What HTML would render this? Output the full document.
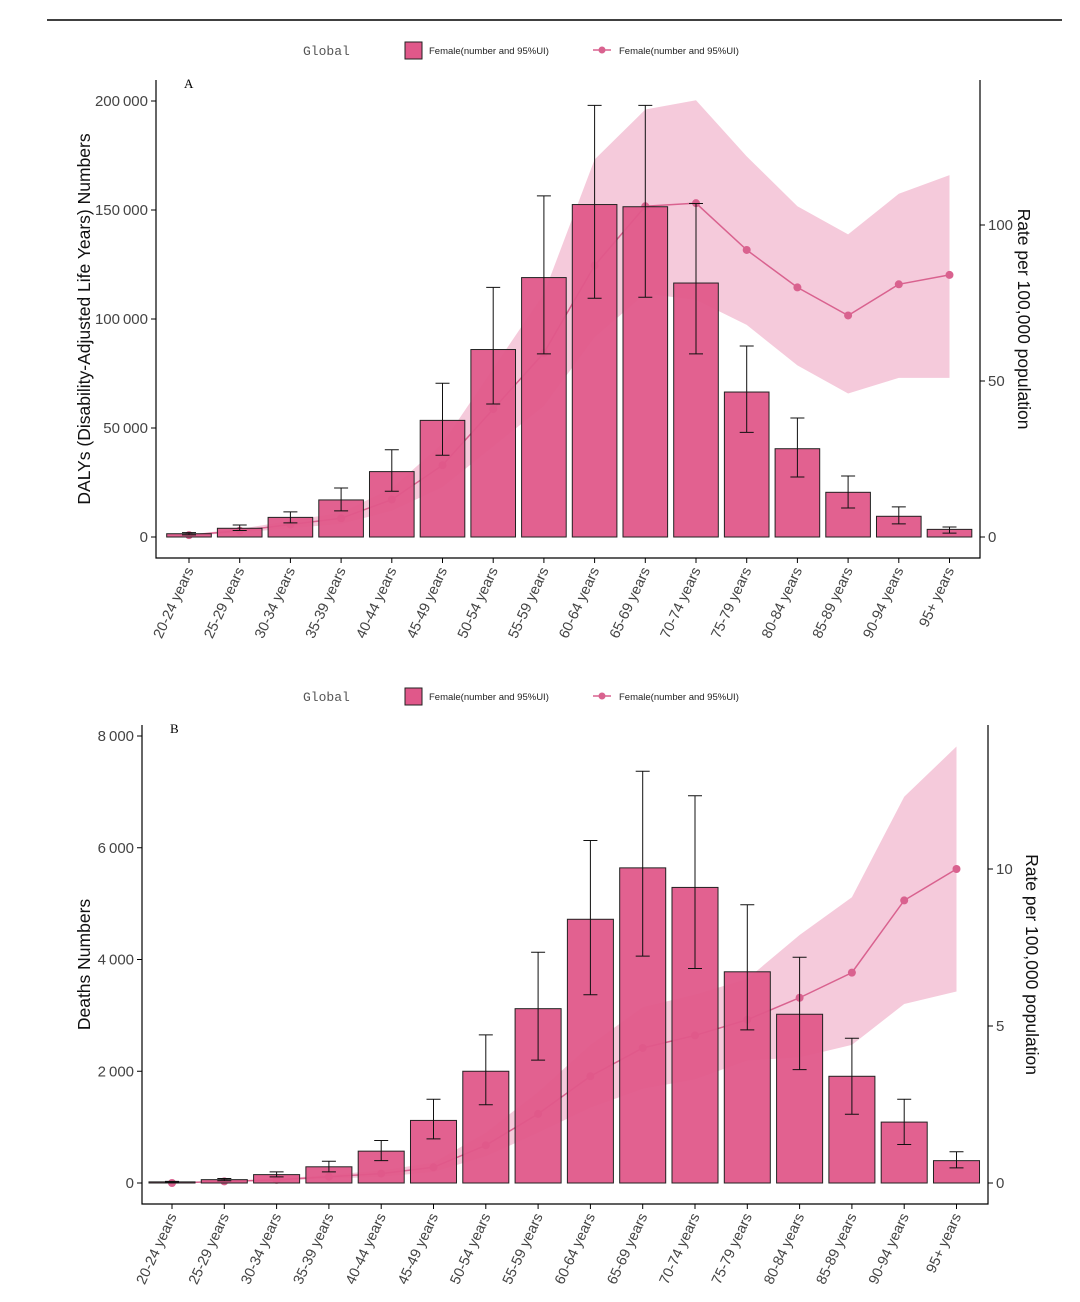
<!DOCTYPE html>
<html><head><meta charset="utf-8"><style>
body{margin:0;background:#fff;width:1080px;height:1297px;overflow:hidden}
svg{font-family:"Liberation Sans",sans-serif}
</style></head><body>
<svg id="c" width="1080" height="1297">
<line x1="47" y1="20" x2="1062" y2="20" stroke="#000" stroke-width="1.5"/>
</svg>
<script>
const ages=["20-24 years","25-29 years","30-34 years","35-39 years","40-44 years","45-49 years","50-54 years","55-59 years","60-64 years","65-69 years","70-74 years","75-79 years","80-84 years","85-89 years","90-94 years","95+ years"];
const dalyNum=[1500,4000,9000,17000,30000,53500,86000,119000,152500,151500,116500,66500,40500,20500,9500,3500];
const dalyLow=[1000,3000,6500,12000,21000,37500,61000,84000,109500,110000,84000,48000,27500,13300,6000,1800];
const dalyHigh=[2000,5500,11500,22500,40000,70500,114500,156500,198000,198000,153000,87600,54600,28000,13800,4600];
const dalyRate=[0.6,2,4,6,12,23,41,59,87,106,107,92,80,71,81,84];
const dalyRateLow=[0.4,1.4,2.8,4.2,8.4,16,29,42,64,78,76,68,55,46,51,51];
const dalyRateHigh=[0.8,2.6,5.2,7.8,15.6,30,54,78,121,137,140,122,106,97,110,116];
const dalyTicks=[0,50000,100000,150000,200000];
const dalyRateTicks=[0,50,100];
const deathNum=[20,60,150,290,570,1120,2000,3120,4720,5640,5290,3780,3020,1910,1090,400];
const deathLow=[10,40,110,200,400,790,1400,2200,3370,4060,3840,2740,2030,1230,690,270];
const deathHigh=[30,80,200,390,760,1500,2650,4130,6130,7370,6930,4980,4040,2590,1500,560];
const deathRate=[0,0.05,0.1,0.2,0.3,0.5,1.2,2.2,3.4,4.3,4.7,5.2,5.9,6.7,9.0,10.0];
const deathRateLow=[0,0.03,0.07,0.14,0.2,0.35,0.85,1.6,2.4,3.0,3.3,3.9,4.0,4.4,5.7,6.1];
const deathRateHigh=[0,0.07,0.13,0.26,0.4,0.65,1.6,2.9,4.4,5.6,6.0,6.5,7.9,9.1,12.3,13.9];
const deathTicks=[0,2000,4000,6000,8000];
const deathRateTicks=[0,5,10];

const svg=document.getElementById('c');
const NS='http://www.w3.org/2000/svg';
function el(t,a,txt){const e=document.createElementNS(NS,t);for(const k in a)e.setAttribute(k,a[k]);if(txt!==undefined)e.textContent=txt;svg.appendChild(e);return e;}
function fmt(v){return v>=1000?String(v).replace(/\B(?=(\d{3})+(?!\d))/g,"\u2009"):String(v);}

function panel(p){
  const y=v=>p.y0-(v/p.lmax)*(p.y0-p.ytop);
  const yr=v=>p.y0-(v/p.rmax)*(p.y0-p.ytopR);
  const x=i=>p.xf+i*p.sp;
  let t=el('text',{x:p.legX,y:p.legY+5,'font-family':'"Liberation Mono",monospace','font-size':13,fill:'#555'},'Global');
  
  let r=el('rect',{x:p.legX+102,y:p.legY-8,width:17,height:17,fill:'#e0588a',stroke:'#222'});
  
  t=el('text',{x:p.legX+126,y:p.legY+4,'font-size':9.5,fill:'#222'},'Female(number and 95%UI)');
  
  let l=el('line',{x1:p.legX+290,y1:p.legY,x2:p.legX+308,y2:p.legY,stroke:'#d9628f','stroke-width':1.5});
  
  el('circle',{cx:p.legX+299,cy:p.legY,r:3.5,fill:'#d9628f'});
  t=el('text',{x:p.legX+316,y:p.legY+4,'font-size':9.5,fill:'#222'},'Female(number and 95%UI)');
  
  let pts=p.rate.map((_,i)=>x(i)+','+yr(p.rhi[i])).concat(p.rate.map((_,i)=>x(i)+','+yr(p.rlo[i])).reverse());
  let band=el('polygon',{points:pts.join(' '),fill:'#f5cadb'});
  
  let ln=el('polyline',{points:p.rate.map((v,i)=>x(i)+','+yr(v)).join(' '),fill:'none',stroke:'#d9628f','stroke-width':1.5});
  
  p.rate.forEach((v,i)=>{const c=el('circle',{cx:x(i),cy:yr(v),r:4,fill:'#d9628f'});
    });
  const bw=p.sp*0.88;
  p.num.forEach((v,i)=>{
    const b=el('rect',{x:x(i)-bw/2,y:y(v),width:bw,height:p.y0-y(v),fill:'#e0588a','fill-opacity':0.95,stroke:'#222','stroke-width':1});
    
    
  });
  p.num.forEach((v,i)=>{
    const cx=x(i),a=y(p.lo[i]),b=y(p.hi[i]);
    const g=el('path',{d:`M${cx},${a}V${b}M${cx-7},${a}H${cx+7}M${cx-7},${b}H${cx+7}`,stroke:'#111','stroke-width':1,fill:'none'});
    
  });
  el('path',{d:`M${p.xl},${p.top}V${p.bot}H${p.xr}V${p.top}`,fill:'none',stroke:'#000','stroke-width':1.2});
  p.lt.forEach(v=>{el('line',{x1:p.xl-5,x2:p.xl,y1:y(v),y2:y(v),stroke:'#000'});
    const tt=el('text',{x:p.xl-8,y:y(v)+5,'text-anchor':'end','font-size':15,fill:'#444'},fmt(v));
    });
  p.rt.forEach(v=>{el('line',{x1:p.xr,x2:p.xr+5,y1:yr(v),y2:yr(v),stroke:'#000'});
    const tt=el('text',{x:p.xr+8,y:yr(v)+5,'font-size':15,fill:'#444'},v);
    });
  ages.forEach((a,i)=>{el('line',{x1:x(i),x2:x(i),y1:p.bot,y2:p.bot+5,stroke:'#000'});
    const tt=el('text',{x:x(i)+5,y:p.bot+12,'text-anchor':'end','font-size':14.5,fill:'#444',transform:`rotate(-65 ${x(i)+5} ${p.bot+12})`},a);
    });
  t=el('text',{x:p.xl+28,y:p.top+8,'font-family':'"Liberation Serif",serif','font-size':13},p.tag);
  
  const my=(p.top+p.bot)/2;
  t=el('text',{x:p.ylx,y:my,'text-anchor':'middle','font-size':17.5,fill:'#111',transform:`rotate(-90 ${p.ylx} ${my})`},p.ytitle);
  
  t=el('text',{x:p.xr+38,y:my,'text-anchor':'middle','font-size':17.5,fill:'#111',transform:`rotate(90 ${p.xr+38} ${my})`},'Rate per 100,000 population');
  
}
panel({tag:'A',num:dalyNum,lo:dalyLow,hi:dalyHigh,rate:dalyRate,rlo:dalyRateLow,rhi:dalyRateHigh,lt:dalyTicks,rt:dalyRateTicks,
 lmax:200000,ytop:101,rmax:100,ytopR:225,y0:537,top:80,bot:558,xl:156,xr:980,xf:189,sp:50.7,legX:303,legY:50,ylx:90,
 ytitle:'DALYs (Disability-Adjusted Life Years) Numbers'});
panel({tag:'B',num:deathNum,lo:deathLow,hi:deathHigh,rate:deathRate,rlo:deathRateLow,rhi:deathRateHigh,lt:deathTicks,rt:deathRateTicks,
 lmax:8000,ytop:736,rmax:10,ytopR:869,y0:1183,top:725,bot:1204,xl:142,xr:988,xf:172,sp:52.3,legX:303,legY:696,ylx:90,
 ytitle:'Deaths Numbers'});
</script>
</body></html>
